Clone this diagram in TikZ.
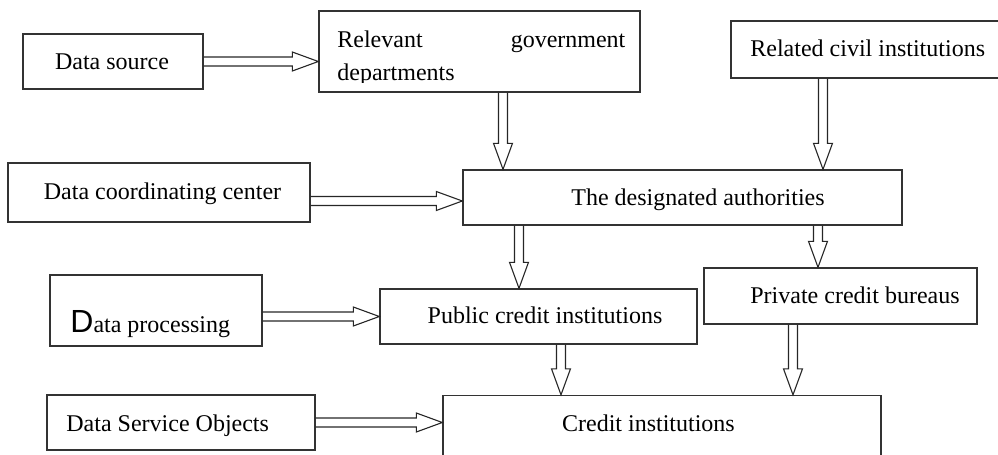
\documentclass[tikz,border=0pt]{standalone}
\usepackage{fontspec}
\setmainfont{Liberation Serif}
\newfontfamily\capfont{Liberation Sans}
\usetikzlibrary{calc}
\tikzset{box/.style={draw=black!80, line width=.7pt, inner sep=0pt}}
\tikzset{sz/.style 2 args={minimum width=#1*.5pt, minimum height=#2*.5pt}}
\tikzset{lbl/.style={inner sep=0pt, anchor=base, font=\fontsize{12}{14}\selectfont}}
\tikzset{fat/.style={draw=black!85, line width=.55pt, to path={let \p1=(\tikztostart), \p2=(\tikztotarget), \n1={atan2(\y2-\y1,\x2-\x1)} in
 ($(\p1)+({\n1+90}:2.25pt)$) --
 ($(\p2)+({\n1+180}:13pt)+({\n1+90}:2.25pt)$) --
 ($(\p2)+({\n1+180}:13pt)+({\n1+90}:4.75pt)$) --
 (\p2) --
 ($(\p2)+({\n1+180}:13pt)+({\n1-90}:4.75pt)$) --
 ($(\p2)+({\n1+180}:13pt)+({\n1-90}:2.25pt)$) --
 ($(\p1)+({\n1-90}:2.25pt)$)}}}

\begin{document}
\begin{tikzpicture}[x=.5pt, y=-.5pt]
	\useasboundingbox (0,0) rectangle (998,455);

	% Boxes
	\node[box, sz={180}{55}] (src) at (113,61.5) {};
	\node[box, sz={321}{81}] (gov) at (479.5,51.5) {};
	\node[box, sz={279}{57}] (civil) at (870.5,49.5) {};
	\node[box, sz={439}{55}] (auth) at (682.5,197.5) {};
	\node[box, sz={302}{59}] (coord) at (159,192.5) {};
	\node[box, sz={212}{71}] (proc) at (156,310.5) {};
	\node[box, sz={317}{55}] (pub) at (538.5,316.5) {};
	\node[box, sz={273}{56}] (priv) at (840.5,296) {};
	\node[box, sz={268}{55}] (svc) at (181,422.5) {};
	\node[box, sz={438}{85}] (credit) at (662,438) {};

	% Texts
	\node[lbl] (srclbl) at (112,69.5) {Data source};
	\begin{scope}
		\clip (320,12) rectangle (639,82);
		\node[lbl, anchor=base west, text width=144pt, align=left, font=\fontsize{12}{16.5}\selectfont] (govlbl) at (337,47) {Relevant\hfill government\\departments};
	\end{scope}
	\node[lbl, anchor=base west] (civillbl) at (750,56.7) {Related civil institutions};
	\node[lbl] (authlbl) at (698,205) {The designated authorities};
	\node[lbl] (coordlbl) at (162.5,199.3) {Data coordinating center};
	\node[lbl, anchor=base west] (proclbl) at (70,332.7) {{\capfont\fontsize{16}{18}\selectfont D}ata processing};
	\node[lbl] (publbl) at (545,323.3) {Public credit institutions};
	\node[lbl, anchor=base west] (privlbl) at (750,303.3) {Private credit bureaus};
	\node[lbl, anchor=base west] (svclbl) at (66,431.7) {Data Service Objects};
	\node[lbl, anchor=base west] (creditlbl) at (561.7,431.7) {Credit institutions};

	% Arrows
	\draw[fat] (src.east) to (src.east -| gov.west);
	\draw[fat] (coord.east |- 0,201) to (auth.west |- 0,201);
	\draw[fat] (proc.east |- pub.west) to (pub.west);
	\draw[fat] (svc.east) to (svc.east -| credit.west);
	%% Downwards
	\draw[fat] (gov.south -| 503,0) to (auth.north -| 503,0);
	\draw[fat] (civil.south -| 823,0) to (auth.north -| 823,0);
	\draw[fat] (auth.south -| 519,0) to (pub.north -| 519,0);
	\draw[fat] (auth.south -| 818,0) to (priv.north -| 818,0);
	\draw[fat] (pub.south -| 561,0) to (credit.north -| 561,0);
	\draw[fat] (priv.south -| 793,0) to (credit.north -| 793,0);
\end{tikzpicture}
\end{document}
